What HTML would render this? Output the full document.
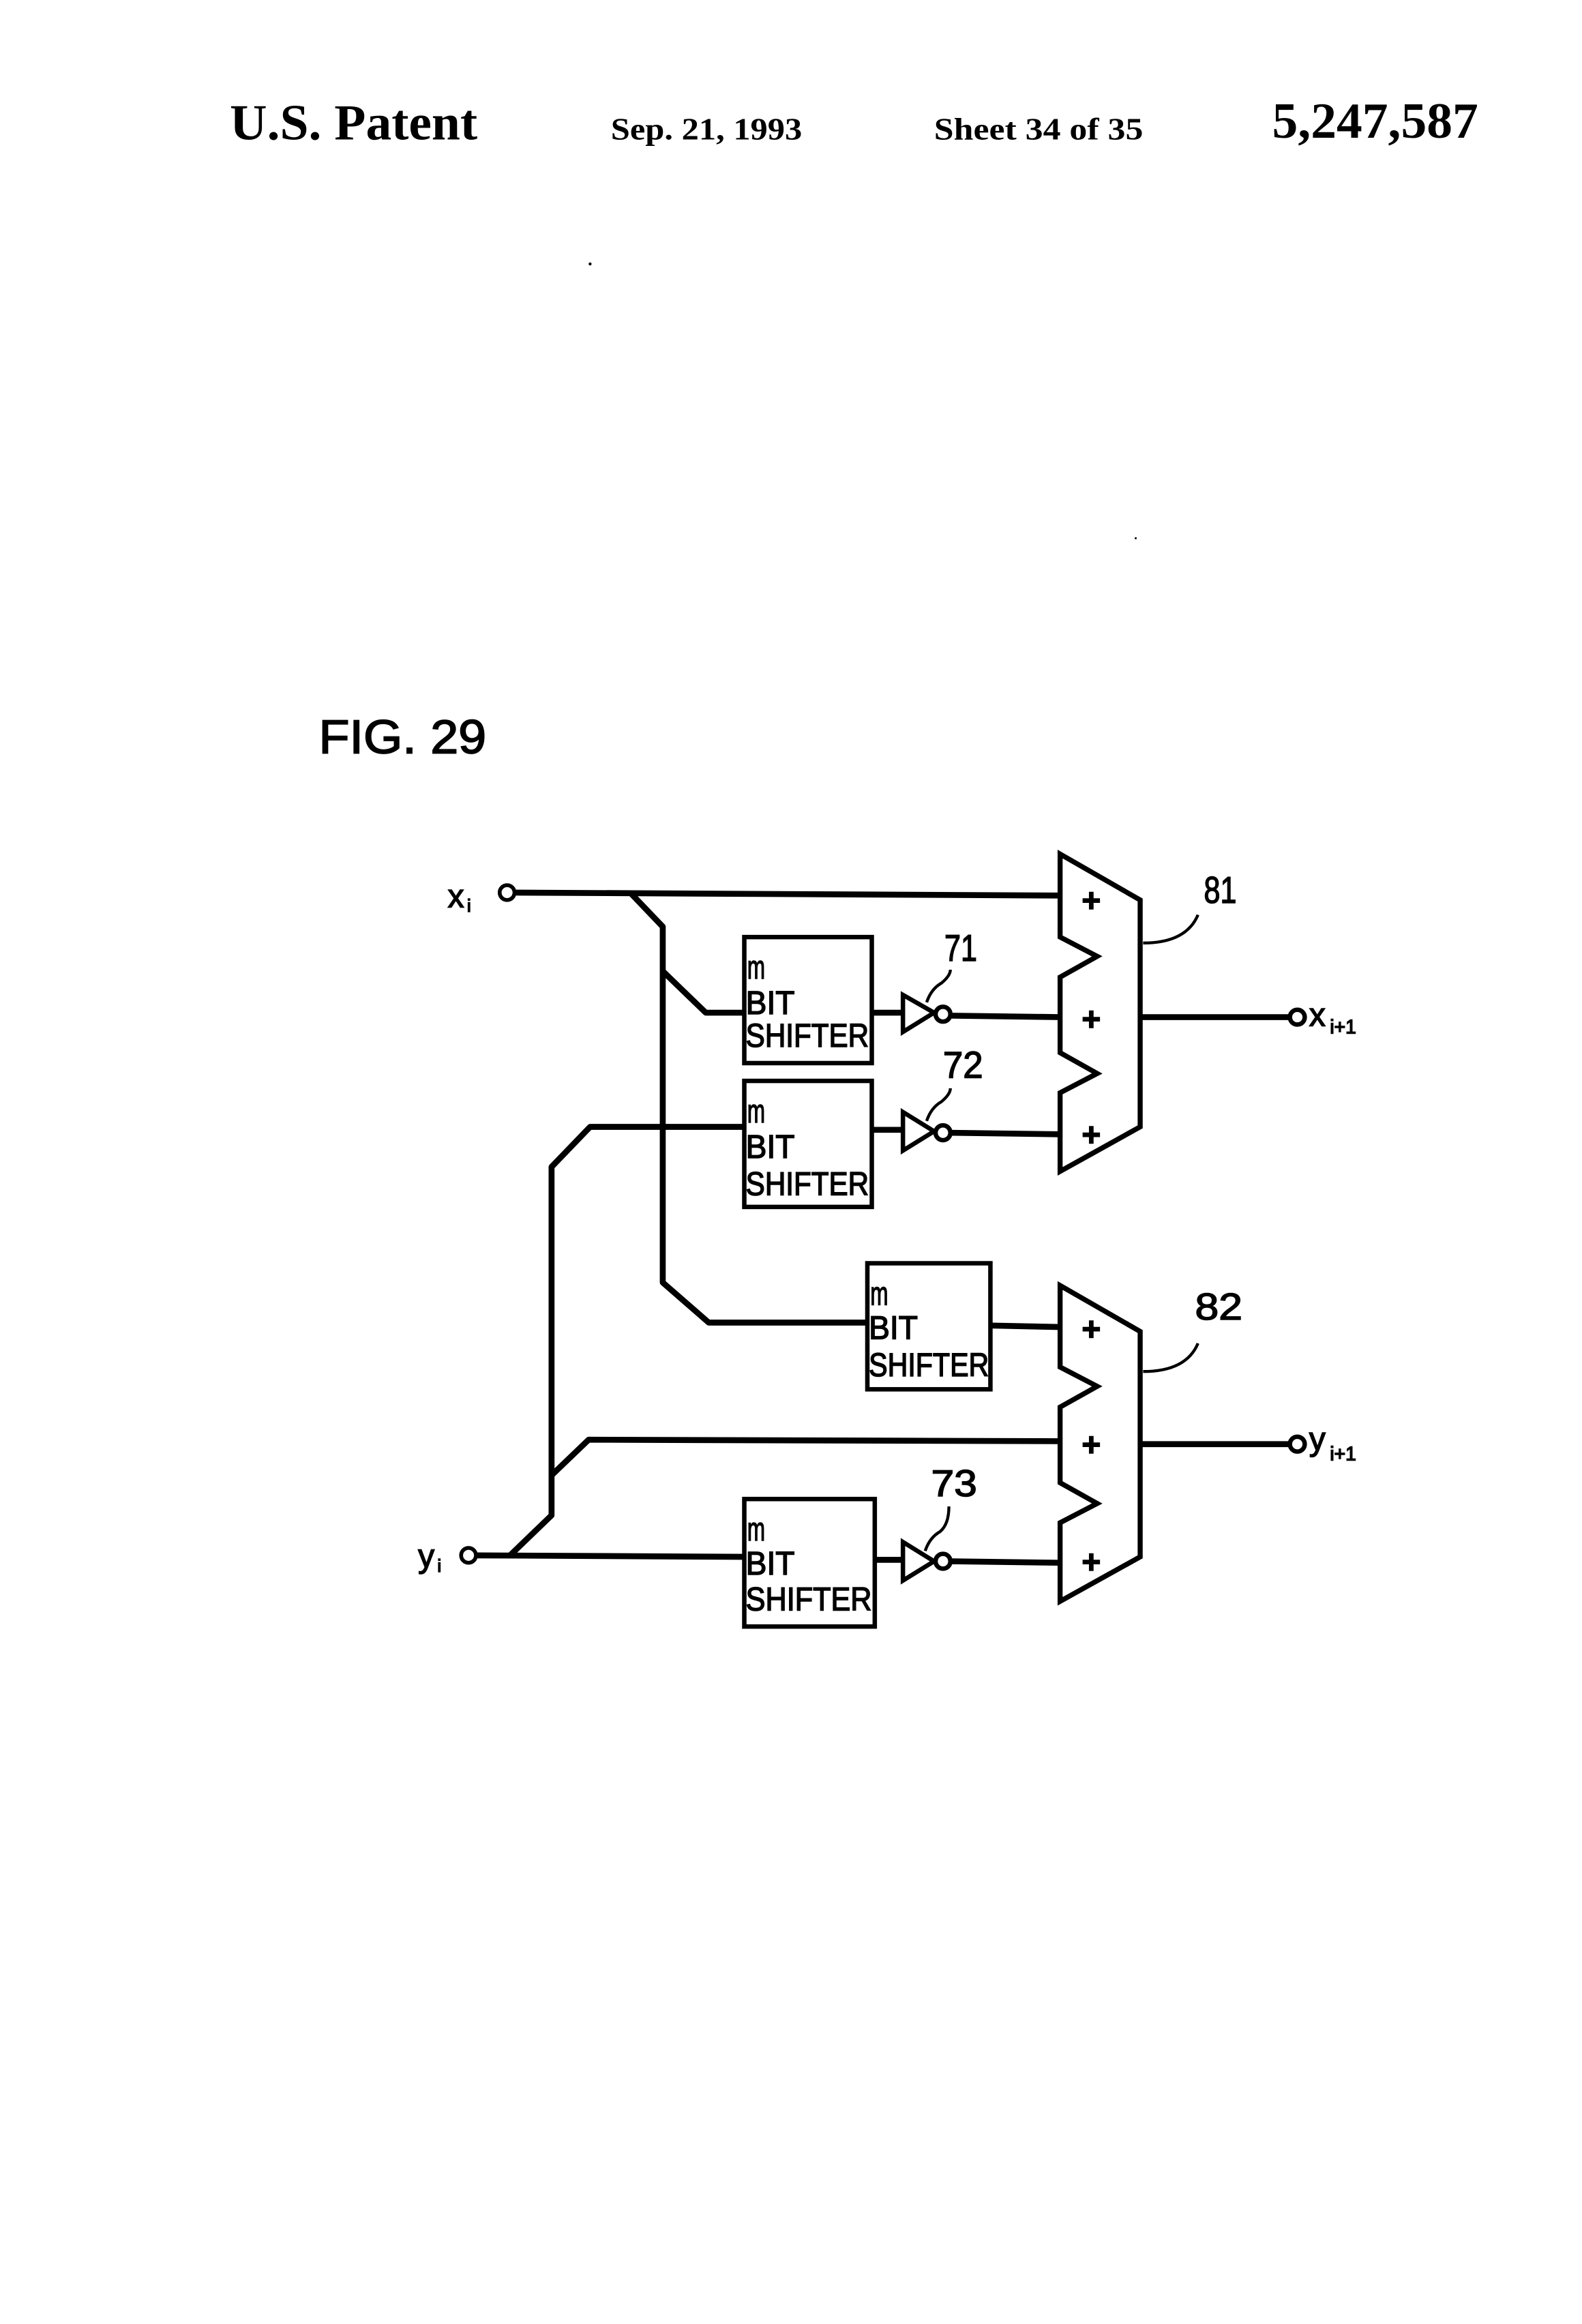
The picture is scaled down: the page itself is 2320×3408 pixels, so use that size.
<!DOCTYPE html>
<html><head><meta charset="utf-8"><style>
html,body{margin:0;padding:0;background:#fff;}
svg{display:block;}
.s{font-family:"Liberation Serif",serif;font-weight:bold;fill:#000;}
.t{font-family:"Liberation Sans",sans-serif;fill:#000;}
</style></head><body>
<svg width="2320" height="3408" viewBox="0 0 1067 1567.4" xmlns="http://www.w3.org/2000/svg">
<rect width="1067" height="1567.4" fill="#fff"/>
<text class="s" x="155" y="94" font-size="34" textLength="167" lengthAdjust="spacingAndGlyphs">U.S. Patent</text>
<text class="s" x="412" y="94" font-size="21" textLength="129" lengthAdjust="spacingAndGlyphs">Sep. 21, 1993</text>
<text class="s" x="630" y="94" font-size="21" textLength="141" lengthAdjust="spacingAndGlyphs">Sheet 34 of 35</text>
<text class="s" x="858" y="93" font-size="34" textLength="139" lengthAdjust="spacingAndGlyphs">5,247,587</text>
<circle cx="398" cy="178" r="1" fill="#000"/>
<circle cx="766" cy="363" r="0.7" fill="#000"/>
<text class="t" x="215" y="508" font-size="32" textLength="113" lengthAdjust="spacingAndGlyphs" stroke="#000" stroke-width="0.8">FIG. 29</text>

<g fill="none" stroke="#000" stroke-width="4" stroke-linejoin="round">
<path d="M347 602 L715 604"/>
<path d="M425 602 L447 625 L447 865 L478 892 L585 892"/>
<path d="M447 655 L476 683 L502 683"/>
<path d="M320 1049 L502 1050"/>
<path d="M344 1049 L372 1022 L372 787 L398 760 L502 760"/>
<path d="M372 995 L397 971 L715 972"/>
<path d="M588 683 L609 683"/>
<path d="M641 685 L715 686"/>
<path d="M588 762 L609 762"/>
<path d="M641 764 L715 765"/>
<path d="M668 894 L715 895"/>
<path d="M590 1052 L609 1052"/>
<path d="M641 1053 L715 1054"/>
<path d="M769 686 L870 686"/>
<path d="M769 974 L870 974"/>
</g>
<g fill="#fff" stroke="#000" stroke-width="3">
<rect x="502" y="632" width="86" height="85"/>
<rect x="502" y="729" width="86" height="85"/>
<rect x="585" y="852" width="83" height="85"/>
<rect x="502" y="1011" width="88" height="86"/>
<path d="M609 671 L630 683 L609 696 Z"/>
<circle cx="636" cy="684" r="5"/>
<path d="M609 750 L630 763 L609 776 Z"/>
<circle cx="636" cy="764" r="5"/>
<path d="M609 1040 L630 1053 L609 1066 Z"/>
<circle cx="636" cy="1053" r="5"/>
<path d="M715 576 L769 607 L769 760 L715 790 L715 737 L740 724 L715 710 L715 659 L740 645 L715 632 Z" stroke-width="3.4"/>
<path d="M715 867 L769 898 L769 1050 L715 1080 L715 1027 L740 1014 L715 1000 L715 949 L740 935 L715 922 Z" stroke-width="3.4"/>
<circle cx="875" cy="686" r="5"/>
<circle cx="875" cy="974" r="5"/>
</g>
<g fill="none" stroke="#000" stroke-width="2">
<path d="M771 636 Q800 636 808 617"/>
<path d="M771 925 Q800 925 808 906"/>
<path d="M625 676 Q628 667 635 663 Q641 658 641 654"/>
<path d="M625 756 Q628 747 635 743 Q641 738 641 734"/>
<path d="M624 1046 Q627 1037 634 1033 Q640 1028 640 1016"/>
<circle cx="342" cy="602" r="5" stroke-width="2.6" fill="#fff"/>
<circle cx="316" cy="1049" r="5" stroke-width="2.6" fill="#fff"/>
</g>
<g class="t" stroke="#000" stroke-width="0.7">
<g font-size="22" font-weight="bold">
<text x="736" y="615" text-anchor="middle">+</text>
<text x="736" y="695" text-anchor="middle">+</text>
<text x="736" y="773" text-anchor="middle">+</text>
<text x="736" y="904" text-anchor="middle">+</text>
<text x="736" y="982" text-anchor="middle">+</text>
<text x="736" y="1061" text-anchor="middle">+</text>
</g>
<g font-size="22">
<text x="504" y="660" textLength="12" lengthAdjust="spacingAndGlyphs">m</text>
<text x="503" y="684" textLength="33" lengthAdjust="spacingAndGlyphs">BIT</text>
<text x="503" y="706" textLength="83" lengthAdjust="spacingAndGlyphs">SHIFTER</text>
<text x="504" y="757" textLength="12" lengthAdjust="spacingAndGlyphs">m</text>
<text x="503" y="781" textLength="33" lengthAdjust="spacingAndGlyphs">BIT</text>
<text x="503" y="806" textLength="83" lengthAdjust="spacingAndGlyphs">SHIFTER</text>
<text x="587" y="880" textLength="12" lengthAdjust="spacingAndGlyphs">m</text>
<text x="586" y="903" textLength="33" lengthAdjust="spacingAndGlyphs">BIT</text>
<text x="586" y="928" textLength="81" lengthAdjust="spacingAndGlyphs">SHIFTER</text>
<text x="504" y="1039" textLength="12" lengthAdjust="spacingAndGlyphs">m</text>
<text x="503" y="1062" textLength="33" lengthAdjust="spacingAndGlyphs">BIT</text>
<text x="503" y="1086" textLength="85" lengthAdjust="spacingAndGlyphs">SHIFTER</text>
</g>
<g font-size="25">
<text x="637" y="648" textLength="22" lengthAdjust="spacingAndGlyphs">71</text>
<text x="636" y="727" textLength="27" lengthAdjust="spacingAndGlyphs">72</text>
<text x="628" y="1009" textLength="31" lengthAdjust="spacingAndGlyphs">73</text>
<text x="812" y="609" textLength="22" lengthAdjust="spacingAndGlyphs">81</text>
<text x="806" y="890" textLength="32" lengthAdjust="spacingAndGlyphs">82</text>
</g>
<text x="302" y="612" font-size="22">x</text><text x="315" y="615" font-size="12">i</text>
<text x="282" y="1057" font-size="22">y</text><text x="295" y="1060" font-size="12">i</text>
<text x="883" y="692" font-size="22">x</text><text x="897" y="697" font-size="13">i+1</text>
<text x="883" y="978" font-size="22">y</text><text x="897" y="985" font-size="13">i+1</text>
</g>
</svg>
</body></html>
